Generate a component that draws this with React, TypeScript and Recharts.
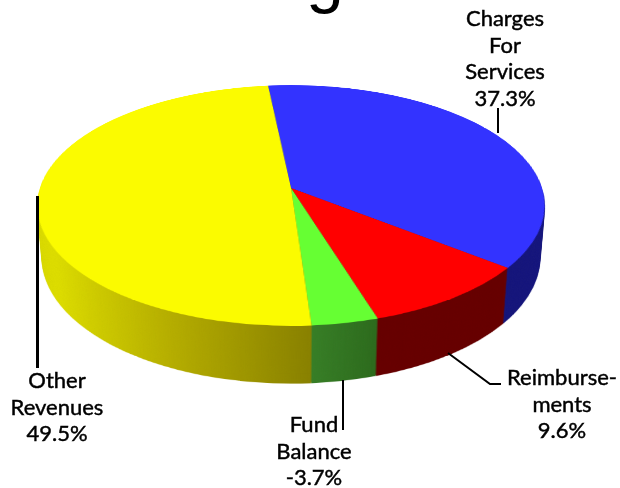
import React from "react";
import { PieChart, Pie, Cell } from "recharts";

const categories = ["Charges For Services", "Reimbursements", "Fund Balance", "Other Revenues"];
const shares = [37.3, 9.6, 3.7, 49.5];
const topColors = ["#3333ff", "#ff0000", "#66ff33", "#fbfb00"];
const wallColors = ["url(#wallBlue)", "#660000", "url(#wallGreen)", "url(#wallYellow)"];

const chargesLines = ["Charges", "For", "Services", "37.3%"];
const reimbLines = ["Reimburse-", "ments", "9.6%"];
const fundLines = ["Fund", "Balance", "-3.7%"];
const otherLines = ["Other", "Revenues", "49.5%"];

const data = categories.map((name, i) => ({ name, value: shares[i] }));

const SIZE = 600;
const RADIUS = 251;
const DEPTH = 60;
const layers = Array.from({ length: DEPTH }, (_, i) => DEPTH - i);

function Layer({ z, colors }: { z: number; colors: string[] }) {
    return (
        <div
            style={{
                position: "absolute",
                left: -9,
                top: -112.5,
                width: SIZE,
                height: SIZE,
                transform: `perspective(1528px) rotateX(62deg) translateZ(${-z}px)`,
            }}
        >
            <PieChart width={SIZE} height={SIZE} margin={{ top: 0, right: 0, bottom: 0, left: 0 }}>
                <Pie
                    data={data}
                    dataKey="value"
                    cx={SIZE / 2}
                    cy={SIZE / 2}
                    innerRadius={0}
                    outerRadius={RADIUS}
                    startAngle={96}
                    endAngle={-264}
                    stroke="none"
                    isAnimationActive={false}
                >
                    {data.map((d, i) => (
                        <Cell key={d.name} fill={colors[i]} stroke="none" />
                    ))}
                </Pie>
            </PieChart>
        </div>
    );
}

function Label({ lines, x, y }: { lines: string[]; x: number; y: number }) {
    return (
        <text
            x={x}
            y={y}
            textAnchor="middle"
            fontFamily="Lato"
            fontSize={22}
            fill="#000"
            stroke="#000"
            strokeWidth={0.45}
        >
            {lines.map((l, i) => (
                <tspan key={l} x={x} dy={i === 0 ? 0 : 26.5}>
                    {l}
                </tspan>
            ))}
        </text>
    );
}

export default function App() {
    return (
        <div style={{ position: "absolute", left: 0, top: 0, width: 620, height: 488, overflow: "hidden", background: "#fff" }}>
            <svg width={0} height={0} style={{ position: "absolute" }}>
                <defs>
                    <linearGradient id="wallYellow" x1="0" y1="0" x2="1" y2="0">
                        <stop offset="0%" stopColor="#d8d800" />
                        <stop offset="12%" stopColor="#dcdc00" />
                        <stop offset="55%" stopColor="#b4ac00" />
                        <stop offset="100%" stopColor="#888000" />
                    </linearGradient>
                    <linearGradient id="wallGreen" x1="0" y1="0" x2="1" y2="0">
                        <stop offset="0%" stopColor="#3a8429" />
                        <stop offset="100%" stopColor="#2c6a1c" />
                    </linearGradient>
                    <linearGradient id="wallBlue" x1="0" y1="0" x2="1" y2="0">
                        <stop offset="0%" stopColor="#141470" />
                        <stop offset="100%" stopColor="#14147c" />
                    </linearGradient>
                </defs>
            </svg>
            {layers.map(z => (
                <Layer key={z} z={z} colors={wallColors} />
            ))}
            <Layer z={0} colors={topColors} />
            <svg width={620} height={488} style={{ position: "absolute", left: 0, top: 0 }}>
                <text x={325} y={0} textAnchor="middle" fontFamily="Liberation Sans" fontSize={68} fill="#000">g</text>
                <line x1={498} y1={108} x2={498} y2={133} stroke="#000" strokeWidth={2} />
                <line x1={37.5} y1={196} x2={37.5} y2={368} stroke="#000" strokeWidth={3} />
                <line x1={343} y1={380} x2={343} y2={430} stroke="#000" strokeWidth={2} />
                <polyline points="448,353 490,384 501,384" fill="none" stroke="#000" strokeWidth={2} />
                <Label lines={chargesLines} x={505} y={26} />
                <Label lines={reimbLines} x={562} y={385} />
                <Label lines={fundLines} x={314} y={432} />
                <Label lines={otherLines} x={57} y={388} />
            </svg>
        </div>
    );
}
